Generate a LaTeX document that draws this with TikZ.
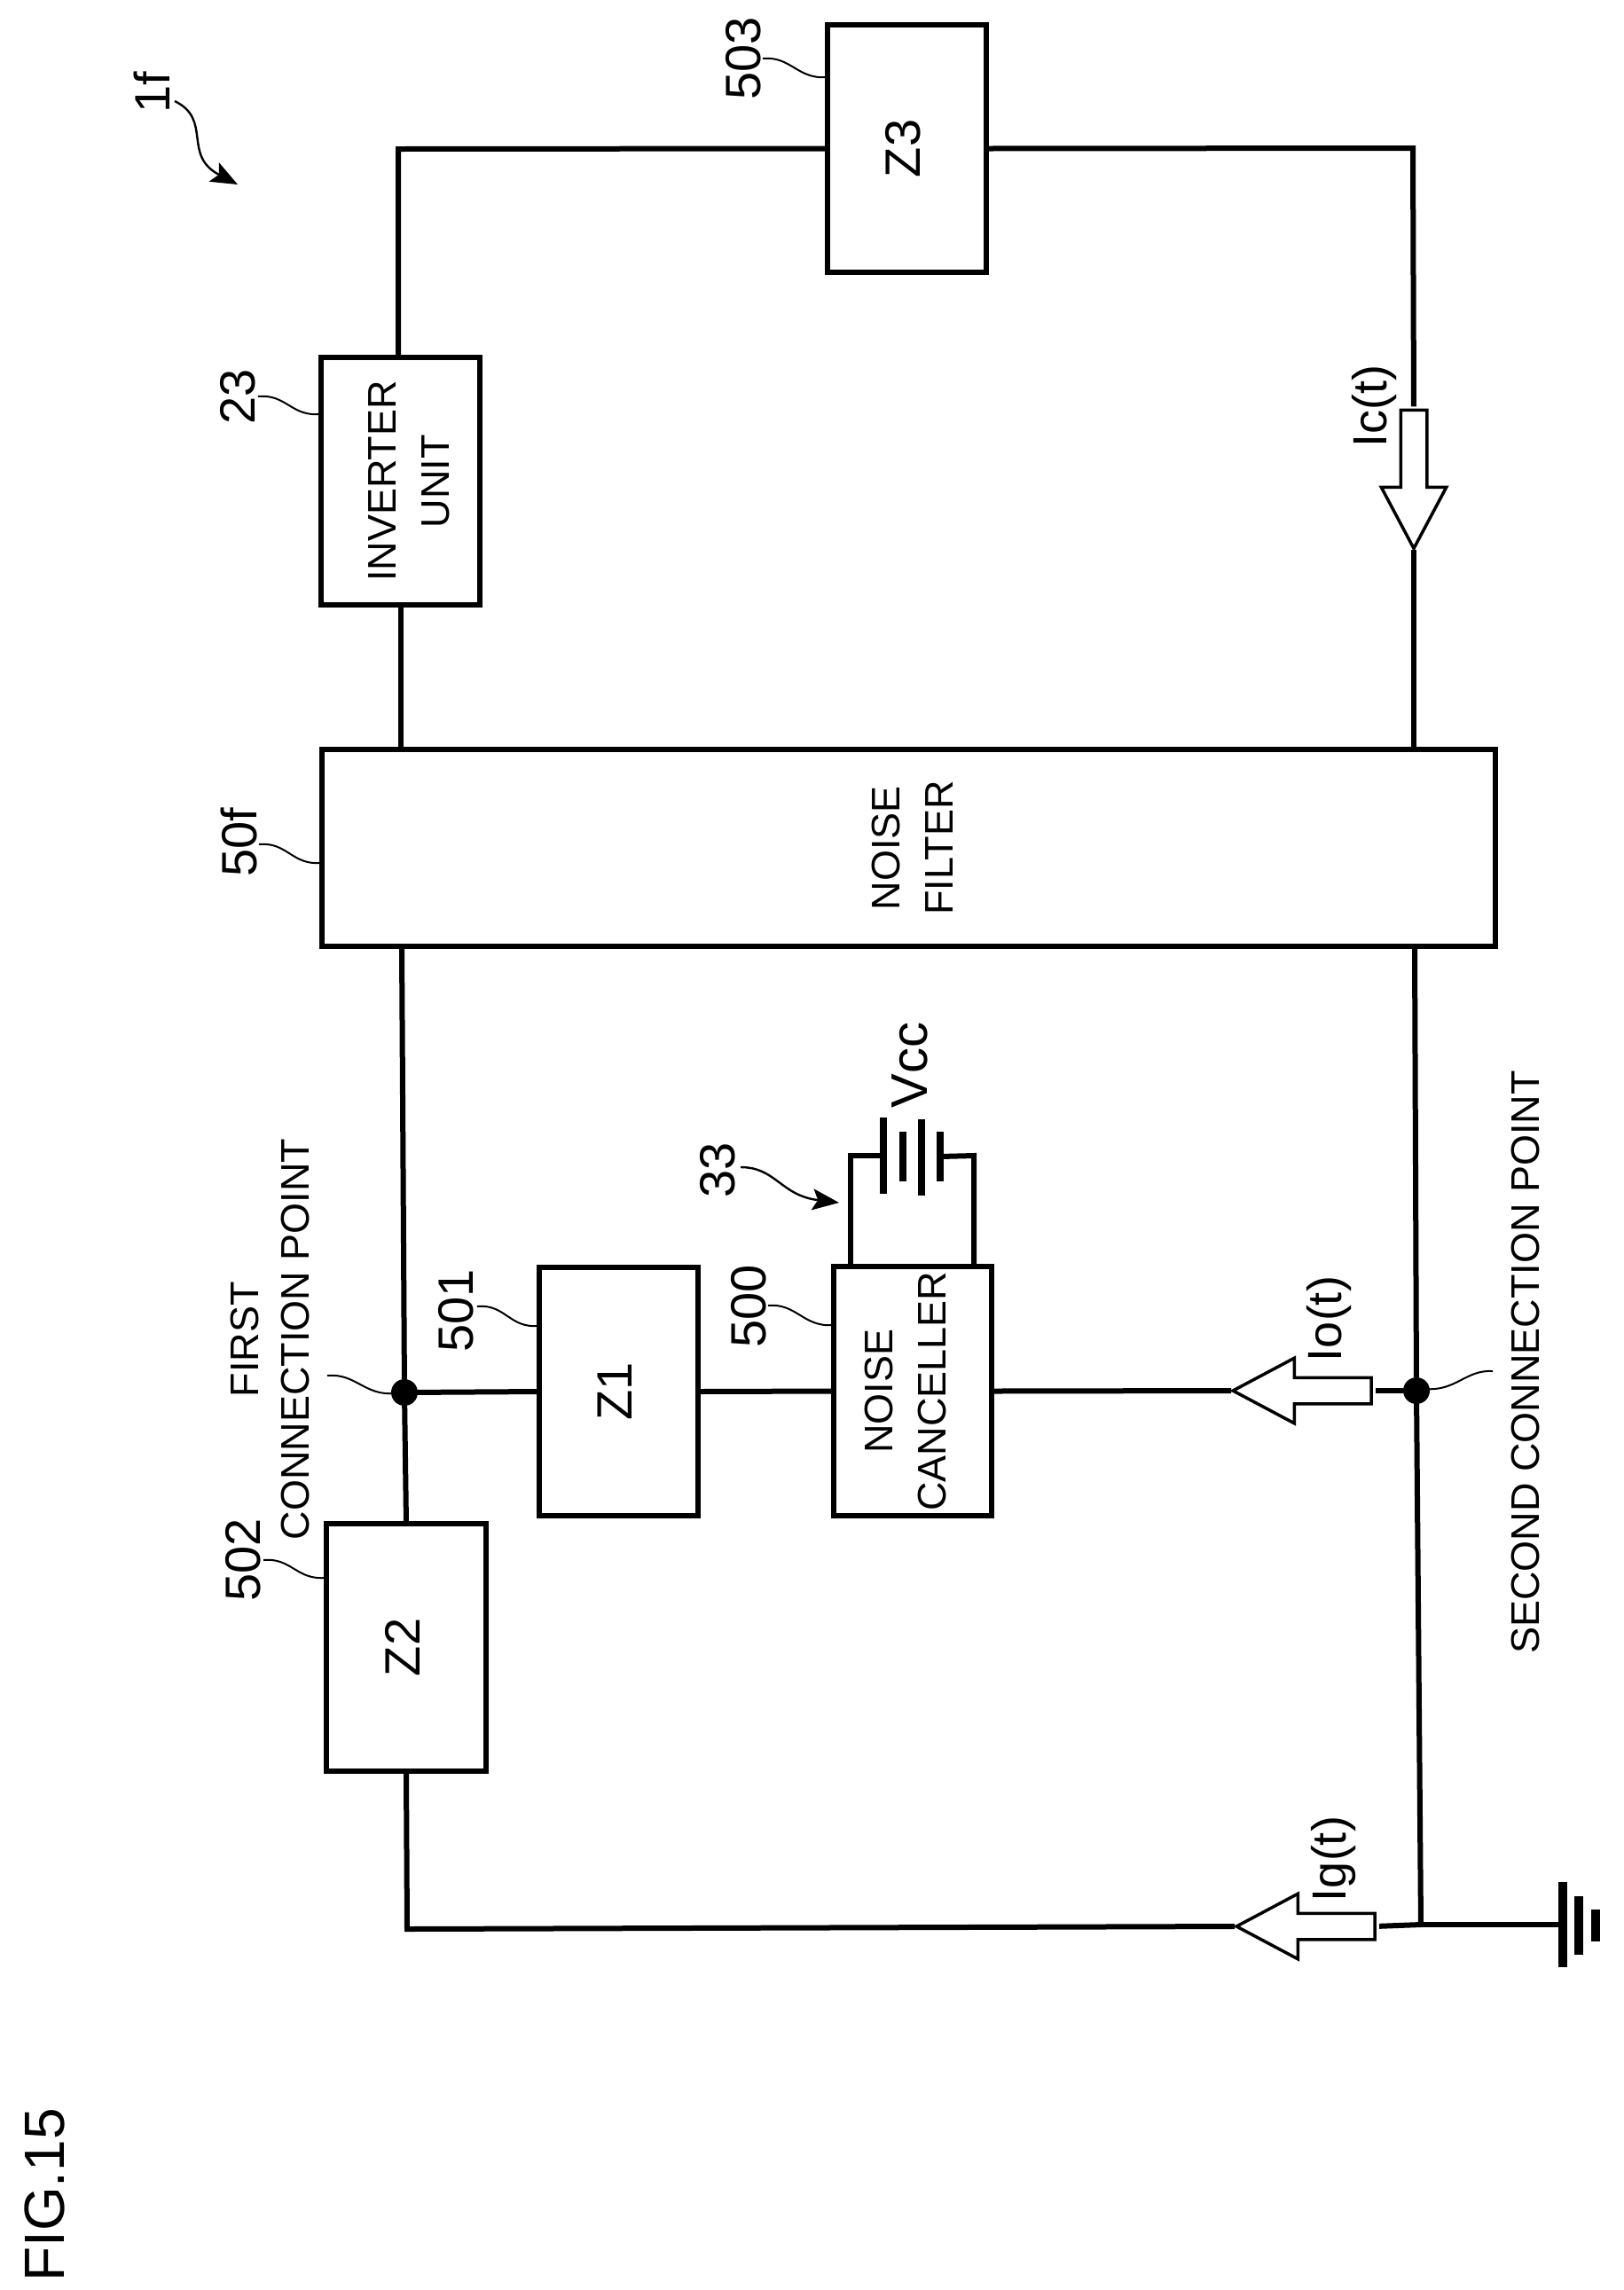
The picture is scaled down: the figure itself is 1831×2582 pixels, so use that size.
\documentclass[tikz,border=0pt]{standalone}
\usepackage{fontspec}
\setmainfont{Liberation Sans}
\usetikzlibrary{arrows.meta,shapes.arrows}
\newcommand{\boxtext}[2]{\makebox[0pt]{\hspace*{#1}\rotatebox{90}{\begin{tabular}{@{}c@{}}#2\end{tabular}}\hspace*{-#1}}}
\tikzset{
  wire/.style={line width=3pt,line join=miter},
  blockbox/.style={draw,line width=3pt,inner sep=0pt,outer sep=0pt,fill=none},
  bigtext/.style={font=\fontsize{28}{30}\selectfont},
  smalltext/.style={font=\fontsize{22.5}{30}\selectfont},
  lab/.style={rotate=90,anchor=base,inner sep=0pt,outer sep=0pt,font=\fontsize{28}{30}\selectfont},
  leader/.style={line width=1pt},
  curved/.style={line width=1.2pt,-{Stealth[length=15pt,width=12pt,inset=3pt]}},
  dot/.style={circle,fill=black,inner sep=0pt,outer sep=0pt,minimum size=15pt},
  current/.style={single arrow,draw,fill=white,line width=1.75pt,inner sep=6.5pt,outer sep=0pt,
    minimum width=35pt,single arrow head extend=11pt,single arrow head indent=0pt,
    single arrow tip angle=56,minimum height=78pt},
  plate/.style={line width=3.6pt},
  gndplate/.style={line width=5pt}
}
\begin{document}
\begin{tikzpicture}[x=0.5pt,y=-0.5pt]
\useasboundingbox (0,0) rectangle (1831,2582);
% boxes
\node[blockbox,bigtext,minimum width=89.5pt,minimum height=139.5pt] (z3) at (1022.5,167.5) {\boxtext{1.5pt}{Z3}};
\node[blockbox,smalltext,minimum width=89.5pt,minimum height=139.5pt] (inv) at (451.5,542.5) {\boxtext{6.5pt}{INVERTER\\UNIT}};
\node[blockbox,smalltext,minimum width=661.5pt,minimum height=111pt] (nf) at (1024.5,956) {\boxtext{4pt}{NOISE\\FILTER}};
\node[blockbox,bigtext,minimum width=89.5pt,minimum height=140pt] (z1) at (697.5,1569) {\boxtext{1.5pt}{Z1}};
\node[blockbox,smalltext,minimum width=89pt,minimum height=140.5pt] (nc) at (1029,1568.5) {\boxtext{-2.5pt}{NOISE\\CANCELLER}};
\node[blockbox,bigtext,minimum width=90pt,minimum height=139.5pt] (z2) at (458,1857.5) {\boxtext{1.5pt}{Z2}};
% junctions
\node[dot] (j1) at (456,1570) {};
\node[dot] (j2) at (1597,1568) {};
% current arrows
\node[current,shape border rotate=270] (ic) at (1594,526.5) {};
\node[current,shape border rotate=180] (io) at (1482,1568) {};
\node[current,shape border rotate=180] (ig) at (1486,2172) {};
% wire corners
\coordinate (tl) at (449,168);
\coordinate (tr) at (1593,167);
\coordinate (nfl) at (453,1067);
\coordinate (nfr) at (1595,1067);
\coordinate (bl) at (459,2175);
\coordinate (br) at (1602,2170);
\coordinate (g) at (1762,2170);
% main loop
\draw[wire] (z3.west) -- (tl) -- (tl |- inv.north);
\draw[wire,shorten >=2pt] (z3.east) -- (tr) -- (ic.tail);
\draw[wire,shorten <=1pt] (ic.tip) -- (ic.tip |- nf.north);
\draw[wire] (inv.south) -- (inv.south |- nf.north);
\draw[wire] (nfl) -- (j1);
\draw[wire] (j1) -- (z2.north);
\draw[wire] (j1) -- (z1.west);
\draw[wire] (z1.east) -- (nc.west);
\draw[wire,shorten >=1pt] (nc.east) -- (io.tip);
\draw[wire,shorten <=2.5pt] (io.tail) -- (j2);
\draw[wire] (nfr) -- (j2);
\draw[wire] (j2) -- (br);
\draw[wire,shorten >=1pt] (z2.south) -- (bl) -- (ig.tip);
\draw[wire,shorten <=2.5pt] (ig.tail) -- (br);
\draw[wire] (br) -- (g);
% ground
\coordinate (g1) at (1762,2170);
\coordinate (g2) at (1780,2171);
\coordinate (g3) at (1799,2170.5);
\draw[gndplate] ([yshift=24pt]g1) -- ([yshift=-24pt]g1);
\draw[gndplate] ([yshift=16.5pt]g2) -- ([yshift=-16.5pt]g2);
\draw[gndplate] ([yshift=9pt]g3) -- ([yshift=-9pt]g3);
% battery
\coordinate (b1) at (996,1303);
\coordinate (b2) at (1018,1304);
\coordinate (b3) at (1039,1305);
\coordinate (b4) at (1060,1304);
\coordinate (bll) at (959,1303);
\coordinate (brr) at (1098,1303);
\draw[wire] (b1) -- (bll) -- (bll |- nc.north);
\draw[wire] (b4) -- (brr) -- (brr |- nc.north);
\draw[plate] ([yshift=21.5pt]b1) -- ([yshift=-21.5pt]b1);
\draw[plate] ([yshift=14pt]b2) -- ([yshift=-14pt]b2);
\draw[plate] ([yshift=21.5pt]b3) -- ([yshift=-21.5pt]b3);
\draw[plate] ([yshift=14pt]b4) -- ([yshift=-14pt]b4);
% labels
\node[lab] (l1f) at (191,104) {1f};
\node[lab] (l23) at (287,447) {23};
\node[lab] (l503) at (857,66) {503};
\node[lab] (l50f) at (289,950) {50f};
\node[lab] (l501) at (533,1478) {501};
\node[lab] (l500) at (863,1473) {500};
\node[lab] (l502) at (293,1759) {502};
\node[lab] (l33) at (828,1319) {33};
\node[lab,font=\fontsize{29}{30}\selectfont] (lvcc) at (1045,1201) {Vcc};
\node[lab,font=\fontsize{27}{30}\selectfont] (lic) at (1563,458) {Ic(t)};
\node[lab,font=\fontsize{27}{30}\selectfont] (lio) at (1512,1487) {Io(t)};
\node[lab,font=\fontsize{27}{30}\selectfont] (lig) at (1517,2096) {Ig(t)};
\node[rotate=90,inner sep=0pt,align=center,font=\fontsize{22.5}{28.5}\selectfont] (lfirst) at (305,1510) {FIRST\\CONNECTION POINT};
\node[lab,font=\fontsize{22.5}{30}\selectfont] (lsecond) at (1735,1536) {SECOND CONNECTION POINT};
\node[lab,font=\fontsize{32}{34}\selectfont] (lfig) at (72,2475) {FIG.15};
% leaders
\coordinate (a23) at (291,447);   \coordinate (b23) at (362,467);
\coordinate (a503) at (860,66);   \coordinate (b503) at (933,87);
\coordinate (a50f) at (292,952);  \coordinate (b50f) at (363,973);
\coordinate (a501) at (538,1473); \coordinate (b501) at (608,1495);
\coordinate (a500) at (866,1472); \coordinate (b500) at (940,1494);
\coordinate (a502) at (297,1759); \coordinate (b502) at (368,1779);
\coordinate (afcp) at (369,1551); \coordinate (bfcp) at (445,1571);
\coordinate (ascp) at (1683,1546);\coordinate (bscp) at (1607,1566);
\foreach \n in {23,503,50f,501,500,502,fcp}
  \draw[leader] (a\n) .. controls +(32,-3) and +(-34,3) .. (b\n);
\draw[leader] (bscp) .. controls +(34,3) and +(-30,-2) .. (ascp);
% pointer arrows
\coordinate (a1f) at (197,114);  \coordinate (b1f) at (268,208);
\coordinate (a33) at (835,1316); \coordinate (b33) at (946,1356);
\draw[curved] (a1f) .. controls (240,135) and (205,175) .. (b1f);
\draw[curved] (a33) .. controls (875,1316) and (880,1348) .. (b33);
\end{tikzpicture}
\end{document}
